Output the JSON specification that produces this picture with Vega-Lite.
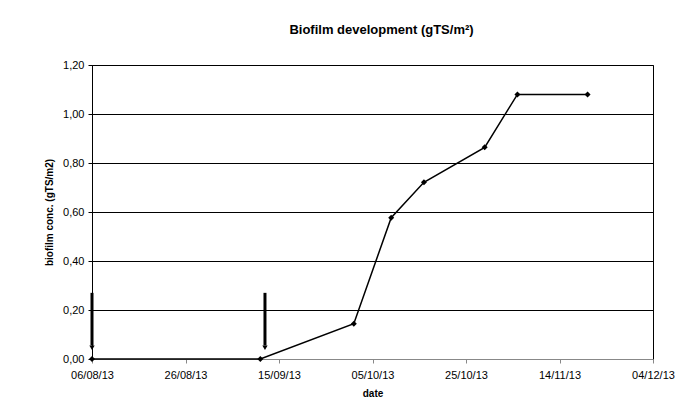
{
  "$schema": "https://vega.github.io/schema/vega-lite/v6.json",
  "width": 561,
  "height": 294,
  "autosize": "none",
  "padding": {"left": 92, "top": 65, "right": 36, "bottom": 59},
  "background": "white",
  "config": {
    "font": "Liberation Sans",
    "view": {"stroke": "black", "strokeWidth": 1}
  },
  "title": {
    "text": "Biofilm development (gTS/m²)",
    "fontSize": 13,
    "fontWeight": "bold",
    "color": "black",
    "anchor": "middle",
    "offset": 22,
    "dx": 9
  },
  "datasets": {
    "series": [
      {"date": "2013-08-06", "conc": 0.0},
      {"date": "2013-09-11", "conc": 0.0},
      {"date": "2013-10-01", "conc": 0.144},
      {"date": "2013-10-09", "conc": 0.577},
      {"date": "2013-10-16", "conc": 0.721},
      {"date": "2013-10-29", "conc": 0.864},
      {"date": "2013-11-05", "conc": 1.08},
      {"date": "2013-11-20", "conc": 1.08}
    ],
    "arrows": [
      {"date": "2013-08-06", "top": 0.27, "bottom": 0.055, "tip": 0.046},
      {"date": "2013-09-12", "top": 0.27, "bottom": 0.055, "tip": 0.046}
    ]
  },
  "encoding": {
    "x": {
      "field": "date",
      "type": "temporal",
      "scale": {
        "type": "utc",
        "domain": [
          {"year": 2013, "month": 8, "date": 6, "utc": true},
          {"year": 2013, "month": 12, "date": 4, "utc": true}
        ]
      },
      "axis": {
        "title": "date",
        "titleFont": "Liberation Sans",
        "titleFontSize": 10,
        "titleFontWeight": "bold",
        "titleColor": "black",
        "titlePadding": 8,
        "values": [
          {"year": 2013, "month": 8, "date": 6, "utc": true},
          {"year": 2013, "month": 8, "date": 26, "utc": true},
          {"year": 2013, "month": 9, "date": 15, "utc": true},
          {"year": 2013, "month": 10, "date": 5, "utc": true},
          {"year": 2013, "month": 10, "date": 25, "utc": true},
          {"year": 2013, "month": 11, "date": 14, "utc": true},
          {"year": 2013, "month": 12, "date": 4, "utc": true}
        ],
        "labelExpr": "utcFormat(datum.value, '%d/%m/%y')",
        "labelFontSize": 11,
        "labelColor": "black",
        "labelPadding": 6,
        "labelOverlap": false,
        "labelFlush": false,
        "grid": false,
        "domainColor": "#888888",
        "tickColor": "#888888",
        "tickSize": 4
      }
    }
  },
  "layer": [
    {
      "data": {"name": "series"},
      "mark": {"type": "line", "color": "black", "strokeWidth": 1.5},
      "encoding": {
        "y": {
          "field": "conc",
          "type": "quantitative",
          "scale": {"domain": [0, 1.2], "nice": false},
          "axis": {
            "title": "biofilm conc. (gTS/m2)",
            "titleFontSize": 10,
            "titleFontWeight": "bold",
            "titleColor": "black",
            "titlePadding": 8,
            "values": [0, 0.2, 0.4, 0.6, 0.8, 1.0, 1.2],
            "labelExpr": "replace(format(datum.value, '.2f'), '.', ',')",
            "labelFontSize": 11,
            "labelColor": "black",
            "labelPadding": 4,
            "labelFlush": false,
            "grid": true,
            "gridColor": "black",
            "gridOpacity": 1,
            "gridWidth": 1,
            "domainColor": "black",
            "tickColor": "black",
            "tickSize": 4
          }
        }
      }
    },
    {
      "data": {"name": "series"},
      "mark": {"type": "point", "shape": "diamond", "filled": true, "color": "black", "opacity": 1, "size": 36},
      "encoding": {
        "y": {"field": "conc", "type": "quantitative"}
      }
    },
    {
      "data": {"name": "arrows"},
      "mark": {"type": "rule", "color": "black", "strokeWidth": 3},
      "encoding": {
        "y": {"field": "top", "type": "quantitative"},
        "y2": {"field": "bottom"}
      }
    },
    {
      "data": {"name": "arrows"},
      "mark": {"type": "point", "shape": "triangle-down", "filled": true, "color": "black", "opacity": 1, "size": 28},
      "encoding": {
        "y": {"field": "tip", "type": "quantitative"}
      }
    }
  ]
}
